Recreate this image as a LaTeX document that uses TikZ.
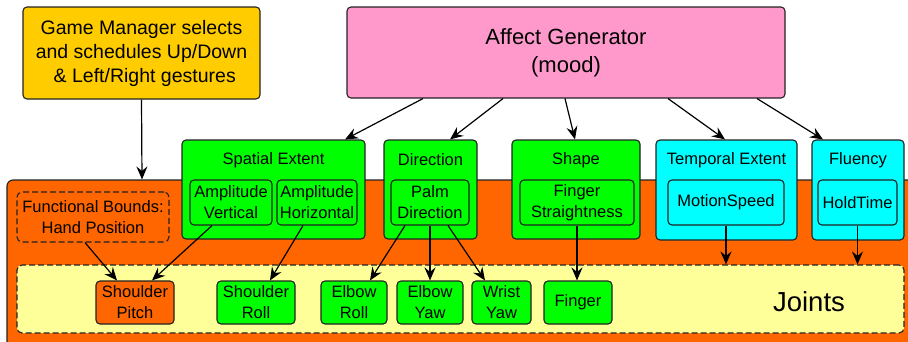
\documentclass[tikz,border=0pt]{standalone}
\usepackage{fontspec}
\setmainfont{Liberation Sans}
\usetikzlibrary{arrows.meta,calc}

\definecolor{gmgold}{HTML}{FFCC00}
\definecolor{affpink}{HTML}{FF99CC}
\definecolor{baseorange}{HTML}{FF6600}
\definecolor{qgreen}{HTML}{00FF00}
\definecolor{qcyan}{HTML}{00FFFF}
\definecolor{jointyellow}{HTML}{FFFF99}
\definecolor{edge}{HTML}{222222}

\tikzset{
  box/.style={draw=edge, line width=1.1pt, rounded corners=4pt, inner sep=0pt,
    align=center, text=black},
  lbl/.style={font=\fontsize{16.5}{21}\selectfont, align=center, inner sep=0pt},
  small/.style={box, font=\fontsize{16.5}{21}\selectfont},
  dashedbox/.style={draw=edge, line width=1.1pt, rounded corners=5pt,
    dash pattern=on 6pt off 3pt, inner sep=0pt, align=center},
  arr/.style={draw=black, line width=1.2pt,
    -{Stealth[length=13pt,width=11pt,inset=4.5pt]}},
}

\begin{document}
\begin{tikzpicture}[x=1pt,y=-1pt]
  \useasboundingbox (0,0) rectangle (908,341);

  % top-level sources
  \node[box, fill=gmgold, minimum width=237pt, minimum height=92pt,
        font=\fontsize{19.5}{24}\selectfont] (gm) at (141.5,53)
        {Game Manager selects\\and schedules Up/Down\\\,\,\& Left/Right gestures};
  \node[box, fill=affpink, minimum width=438pt, minimum height=91pt,
        font=\fontsize{22}{28}\selectfont] (aff) at (566,52.5)
        {Affect Generator\\(mood)};

  % robot body area
  \node[box, fill=baseorange, minimum width=913pt, minimum height=180pt,
        rounded corners=6pt] (base) at (463.5,270) {};
  \node[dashedbox, fill=baseorange, minimum width=152pt, minimum height=50pt,
        font=\fontsize{16.5}{21}\selectfont] (fb) at (93,217)
        {Functional Bounds:\\Hand Position};
  \node[dashedbox, fill=jointyellow, minimum width=887pt, minimum height=68pt]
        (joints) at (460.5,299) {};
  \node[lbl, font=\fontsize{27.5}{30}\selectfont] (jointslbl) at (809,302) {Joints};

  % gesture quality groups
  \node[box, fill=qgreen, minimum width=183pt, minimum height=99pt] (spat) at (273.5,189.5) {};
  \node[lbl] (spatlbl) at (273.5,160) {Spatial Extent};
  \node[box, fill=qgreen, minimum width=93pt, minimum height=99pt] (dir) at (430.5,189.5) {};
  \node[lbl] (dirlbl) at (430.5,160) {Direction};
  \node[box, fill=qgreen, minimum width=128pt, minimum height=99pt] (shape) at (576,189.5) {};
  \node[lbl] (shapelbl) at (576,160) {Shape};
  \node[box, fill=qcyan, minimum width=141pt, minimum height=100pt] (temp) at (726.5,190) {};
  \node[lbl] (templbl) at (726.5,160) {Temporal Extent};
  \node[box, fill=qcyan, minimum width=92pt, minimum height=100pt] (flu) at (858,190) {};
  \node[lbl] (flulbl) at (858,160) {Fluency};

  % parameters inside the groups
  \node[small, fill=qgreen, minimum width=82pt, minimum height=45pt] (ampv) at (231,202.5) {Amplitude\\Vertical};
  \node[small, fill=qgreen, minimum width=80pt, minimum height=45pt] (amph) at (317,202.5) {Amplitude\\Horizontal};
  \node[small, fill=qgreen, minimum width=78pt, minimum height=45pt] (palm) at (430,202.5) {Palm\\Direction};
  \node[small, fill=qgreen, minimum width=114pt, minimum height=45pt] (fstr) at (577,202.5) {Finger\\Straightness};
  \node[small, fill=qcyan, minimum width=116pt, minimum height=45pt] (mspeed) at (726,202.5) {MotionSpeed};
  \node[small, fill=qcyan, minimum width=79pt, minimum height=45pt] (hold) at (857.5,202.5) {HoldTime};

  % joints
  \node[small, fill=baseorange, minimum width=78pt, minimum height=43pt] (sp) at (135,302.5) {Shoulder\\Pitch};
  \node[small, fill=qgreen, minimum width=78pt, minimum height=43pt] (sr) at (256,302.5) {Shoulder\\Roll};
  \node[small, fill=qgreen, minimum width=66pt, minimum height=43pt] (er) at (354,302.5) {Elbow\\Roll};
  \node[small, fill=qgreen, minimum width=66pt, minimum height=43pt] (ey) at (430,302.5) {Elbow\\Yaw};
  \node[small, fill=qgreen, minimum width=59pt, minimum height=43pt] (wy) at (501.5,302.5) {Wrist\\Yaw};
  \node[small, fill=qgreen, minimum width=68pt, minimum height=43pt] (fin) at (578,302.5) {Finger};

  % connectors
  \draw[arr] (gm.south) -- ([xshift=-321.5pt]base.north);
  \draw[arr] ([xshift=-143pt]aff.south) -- ([xshift=71.5pt]spat.north);
  \draw[arr] ([xshift=-63pt]aff.south) -- ([xshift=19.5pt]dir.north);
  \draw[arr] ([xshift=-1pt]aff.south) -- ([xshift=-1pt]shape.north);
  \draw[arr] ([xshift=102pt]aff.south) -- ([xshift=-1.5pt]temp.north);
  \draw[arr] ([xshift=191pt]aff.south) -- ([xshift=-35pt]flu.north);

  \draw[arr] ([xshift=-8pt]fb.south) -- ([xshift=-18pt]sp.north);
  \draw[arr] ([xshift=-19pt]ampv.south) -- ([xshift=17pt]sp.north);
  \draw[arr] ([xshift=-14pt]amph.south) -- ([xshift=14pt]sr.north);
  \draw[arr] ([xshift=-25pt]palm.south) -- ([xshift=16pt]er.north);
  \draw[arr] (palm.south) -- (ey.north);
  \draw[arr] ([xshift=18pt]palm.south) -- ([xshift=-16.5pt]wy.north);
  \draw[arr] (fstr.south) -- ([xshift=-1pt]fin.north);
  \draw[arr] (mspeed.south) -- ([xshift=265.5pt]joints.north);
  \draw[arr] (hold.south) -- ([xshift=397pt]joints.north);
\end{tikzpicture}
\end{document}
